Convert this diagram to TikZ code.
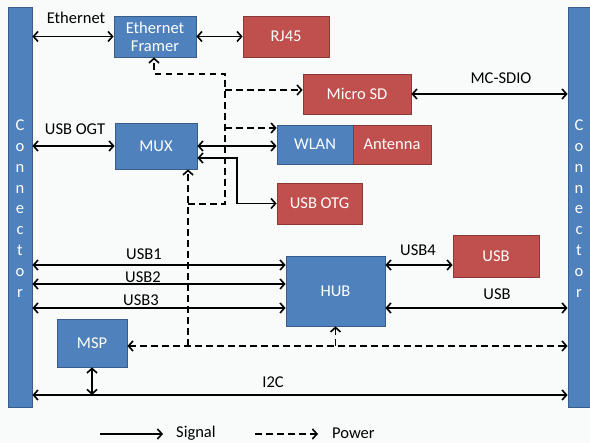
\documentclass[tikz,border=0pt]{standalone}
\usepackage{fontspec}
\setmainfont{Carlito}
\usetikzlibrary{arrows.meta,calc}
\definecolor{bluebox}{HTML}{4F81BD}
\definecolor{blueedge}{HTML}{385D8A}
\definecolor{redbox}{HTML}{C0504D}
\definecolor{rededge}{HTML}{8C3836}
\definecolor{bgc}{HTML}{F9FBFB}
\begin{document}
\begin{tikzpicture}[x=1pt,y=-1pt,
  font=\fontsize{16.5}{19}\selectfont,
  >={Straight Barb[length=4.5pt,width=10pt]},
  bluenode/.style={draw=blueedge,fill=bluebox,text=white,inner sep=0pt,line width=0.8pt,align=center},
  rednode/.style={draw=rededge,fill=redbox,text=white,inner sep=0pt,line width=0.8pt,align=center},
  sig/.style={line width=1.6pt,black},
  pwr/.style={line width=1.6pt,black,dash pattern=on 6.5pt off 4.5pt},
  lbl/.style={inner sep=0pt,text=black},
  context/.style={text=white,align=center,font=\fontsize{16.5}{20.8}\selectfont,inner sep=0pt}]
\fill[bgc] (0,0) rectangle (590,443);
\useasboundingbox (0,0) rectangle (590,443);

% connectors
\node[bluenode,minimum width=24pt,minimum height=400pt] (lc) at (20,207) {};
\node[bluenode,minimum width=22pt,minimum height=400pt] (rc) at (579,207) {};
\node[context] (lct) at (20,208.5) {C\\o\\n\\n\\e\\c\\t\\o\\r};
\node[context] (rct) at (579,208.5) {C\\o\\n\\n\\e\\c\\t\\o\\r};

% boxes
\node[bluenode,minimum width=82pt,minimum height=41pt,font=\fontsize{16.5}{18}\selectfont] (ef) at (155,36.5) {Ethernet\\Framer};
\node[rednode,minimum width=86pt,minimum height=41pt] (rj) at (286,36.5) {RJ45};
\node[rednode,minimum width=108pt,minimum height=40pt] (msd) at (357,94) {Micro SD};
\node[bluenode,minimum width=82pt,minimum height=46pt] (mux) at (156,146) {MUX};
\node[bluenode,minimum width=76pt,minimum height=39pt] (wlan) at (315,144.5) {WLAN};
\node[rednode,minimum width=78pt,minimum height=39pt] (ant) at (392,144.5) {Antenna};
\node[rednode,minimum width=85pt,minimum height=41pt] (otg) at (319.5,203.5) {USB OTG};
\node[bluenode,minimum width=99pt,minimum height=70pt] (hub) at (335.5,291) {HUB};
\node[rednode,minimum width=86pt,minimum height=42pt] (usb) at (496,256) {USB};
\node[bluenode,minimum width=70pt,minimum height=48pt] (msp) at (92,343) {MSP};

% helper coordinates
\coordinate (u1) at (0,265);
\coordinate (u2) at (0,284);
\coordinate (u3) at (0,308);
\coordinate (i2c) at (0,395);
\coordinate (mo) at ($(mux.east)+(0,12)$);
\coordinate (mt) at (237,158);
\coordinate (pw) at (188,346);
\coordinate (pb) at (188,204);
\coordinate (pt) at (225,204);
\coordinate (ptop) at (225,74);
\coordinate (pe) at (154,74);
\coordinate (pwl) at (225,128);
\coordinate (psd) at (225,90);

% signal connectors
\draw[sig,<->] (ef.west -| lc.east) -- (ef.west);
\draw[sig,<->] (ef.east) -- (rj.west);
\draw[sig,<->] (msd.east) -- (msd.east -| rc.west);
\draw[sig,<->] (mux.west -| lc.east) -- (mux.west);
\draw[sig,<->] (mux.east) -- (mux.east -| wlan.west);
\draw[sig,<->] (mo) -- (mt) |- (otg.west);
\draw[sig,<->] (u1 -| lc.east) -- (u1 -| hub.west);
\draw[sig,<->] (u2 -| lc.east) -- (u2 -| hub.west);
\draw[sig,<->] (u3 -| lc.east) -- (u3 -| hub.west);
\draw[sig,<->] (u1 -| hub.east) -- (u1 -| usb.west);
\draw[sig,<->] (u3 -| hub.east) -- (u3 -| rc.west);
\draw[sig,<->] (i2c -| lc.east) -- (i2c -| rc.west);
\draw[sig,<->] (msp.south) -- (msp.south |- i2c);

% power connectors
\draw[pwr,<->] (msp.east |- pw) -- (rc.west |- pw);
\draw[pwr,->] (pw) -- (pw |- mux.south);
\draw[pwr,->] (hub.south |- pw) -- (hub.south);
\draw[pwr,->] (pb) -- (pt) -- (ptop) -- (pe) -- (pe |- ef.south);
\draw[pwr,->] (pwl) -- (pwl -| wlan.west);
\draw[pwr,->] (psd) -- (psd -| msd.west);

% labels
\node[lbl] (lEth) at (76,18) {Ethernet};
\node[lbl] (lOgt) at (75,129) {USB OGT};
\node[lbl] (lSdio) at (501,78) {MC-SDIO};
\node[lbl] (lU1) at (144,254) {USB1};
\node[lbl] (lU2) at (143,277) {USB2};
\node[lbl] (lU3) at (141,300) {USB3};
\node[lbl] (lU4) at (418,250) {USB4};
\node[lbl] (lUsb) at (497,294) {USB};
\node[lbl] (lI2c) at (273,382) {I2C};

% legend
\coordinate (ls1) at (100,434);
\coordinate (ls2) at (163,434);
\coordinate (lp1) at (255,434);
\coordinate (lp2) at (318,434);
\draw[sig,->] (ls1) -- (ls2);
\draw[pwr,->] (lp1) -- (lp2);
\node[lbl,anchor=west] (lSig) at (176,433.5) {Signal};
\node[lbl,anchor=west] (lPow) at (332,433.5) {Power};
\end{tikzpicture}
\end{document}
